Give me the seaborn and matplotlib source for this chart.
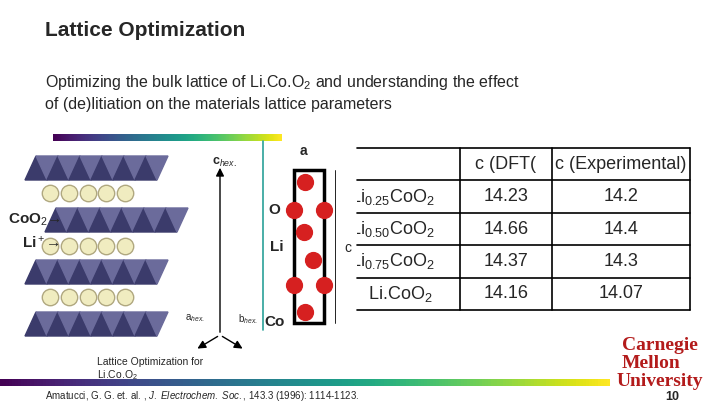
import matplotlib
matplotlib.use("Agg")
import matplotlib.pyplot as plt
import matplotlib.patches as mpatches
import numpy as np
import pandas as pd
import seaborn as sns

sns.set_theme(style="white")
plt.rcParams['font.family'] = ['Liberation Sans', 'DejaVu Sans']
plt.rcParams['mathtext.fontset'] = 'custom'
plt.rcParams['mathtext.rm'] = 'Liberation Sans'
plt.rcParams['mathtext.it'] = 'Liberation Sans:italic'
plt.rcParams['mathtext.bf'] = 'Liberation Sans:bold'

# table data
compounds = ["Li$_{0.25}$CoO$_2$", "Li$_{0.50}$CoO$_2$", "Li$_{0.75}$CoO$_2$", "Li.CoO$_2$"]
c_dft = ["14.23", "14.66", "14.37", "14.16"]
c_exp = ["14.2", "14.4", "14.3", "14.07"]
headers = ["", "c (DFT(", "c (Experimental)"]

fig = plt.figure(figsize=(7.2, 4.05), dpi=100)
bg = fig.add_axes([0, 0, 1, 1])
bg.set_xlim(0, 720)
bg.set_ylim(405, 0)
bg.axis("off")

bg.text(45, 30, "Lattice Optimization", fontsize=15, fontweight="bold", va="center")
bg.text(45, 82, "Optimizing the bulk lattice of Li.Co.O$_2$ and understanding the effect",
        fontsize=11.5, va="center")
bg.text(45, 104, "of (de)litiation on the materials lattice parameters", fontsize=11.5, va="center")

# top stripe
grad = np.linspace(0, 1, 200)[None, :]
bg.imshow(grad, extent=(53, 282, 141, 134), cmap="viridis", aspect="auto")
bg.plot([263, 263], [141, 330], color="#2aa198", lw=1.2)

# layered structure schematic
for y in [168, 220, 272, 324]:
    x0 = 25 if y != 220 else 45
    for i in range(6):
        xs = x0 + i * 22
        bg.add_patch(mpatches.Polygon([[xs, y + 12], [xs + 22, y + 12], [xs + 11, y - 12]],
                                      color="#3b3b6b"))
        bg.add_patch(mpatches.Polygon([[xs + 11, y - 12], [xs + 33, y - 12], [xs + 22, y + 12]],
                                      color="#6b6b9b"))
for y in [193, 246, 297]:
    bg.scatter(np.linspace(50, 125, 5), [y] * 5, s=140, color="#f0ecc0", edgecolor="#b0a880", zorder=3)
bg.text(8, 220, "CoO$_2$→", fontsize=11, fontweight="bold", va="center")
bg.text(22, 243, "Li$^+$→", fontsize=11, fontweight="bold", va="center")
bg.annotate("", xy=(220, 165), xytext=(220, 335), arrowprops=dict(arrowstyle="-|>", color="black"))
bg.annotate("", xy=(195, 350), xytext=(220, 335), arrowprops=dict(arrowstyle="-|>", color="black"))
bg.annotate("", xy=(245, 350), xytext=(220, 335), arrowprops=dict(arrowstyle="-|>", color="black"))
bg.text(212, 165, "c$_{hex.}$", fontsize=9, fontweight="bold")
bg.text(185, 320, "a$_{hex.}$", fontsize=7)
bg.text(238, 322, "b$_{hex.}$", fontsize=7)

# unit cell
bg.add_patch(mpatches.Rectangle((294, 170), 30, 153, fill=False, lw=2.5, color="black"))
bg.scatter([305, 294, 324, 304, 313, 294, 324, 305], [182, 210, 210, 232, 260, 285, 285, 312],
           s=130, color="#d62020", zorder=4)
bg.text(268, 210, "O", fontsize=11, fontweight="bold", va="center")
bg.text(270, 247, "Li", fontsize=11, fontweight="bold", va="center")
bg.text(264, 322, "Co", fontsize=11, fontweight="bold", va="center")
bg.text(303, 155, "a", fontsize=10, fontweight="bold", ha="center")
bg.text(344, 248, "c", fontsize=10, va="center")
bg.plot([335, 335], [170, 323], color="black", lw=0.6)

bg.text(97, 362, "Lattice Optimization for", fontsize=7.5, va="center")
bg.text(97, 375, "Li.Co.O$_2$", fontsize=7.5, va="center")
bg.imshow(grad, extent=(0, 610, 386, 379), cmap="viridis", aspect="auto")
bg.text(45, 396, "Amatucci, G. G. et. al. , $\\it{J.\\ Electrochem.\\ Soc.}$, 143.3 (1996): 1114-1123.",
        fontsize=7, va="center")

bg.text(660, 346, "Carnegie", fontsize=14, family="Liberation Serif", fontweight="bold",
        color="#b31b1b", ha="center", va="center")
bg.text(651, 364, "Mellon", fontsize=14, family="Liberation Serif", fontweight="bold",
        color="#b31b1b", ha="center", va="center")
bg.text(660, 382, "University", fontsize=14, family="Liberation Serif", fontweight="bold",
        color="#b31b1b", ha="center", va="center")
bg.text(672, 397, "10", fontsize=9, fontweight="bold", ha="center", va="center")

# table drawn on a seaborn heatmap axis
cells = [headers] + [[a, b, c] for a, b, c in zip(compounds, c_dft, c_exp)]
df = pd.DataFrame(np.zeros((5, 3)))
tx0, tx1, ty0, ty1 = 357, 690, 148, 310
tab = fig.add_axes([tx0 / 720, 1 - ty1 / 405, (tx1 - tx0) / 720, (ty1 - ty0) / 405])
sns.heatmap(df, ax=tab, cmap=["white"], cbar=False, linewidths=0)
widths = np.array([103, 92, 138])
edges = np.concatenate([[0], np.cumsum(widths)]) / widths.sum() * 3
tab.set_xticks([])
tab.set_yticks([])
for s in tab.spines.values():
    s.set_visible(False)
for i, row in enumerate(cells):
    for j, txt in enumerate(row):
        x = (edges[j] + edges[j + 1]) / 2
        ha = "center"
        if j == 0 and i > 0:
            x = 0.1 if i == 4 else -0.06
            ha = "left"
        tab.text(x, i + 0.5, txt, fontsize=13, ha=ha, va="center", clip_on=True)
for i in range(0, 6):
    tab.plot([0, 3], [i, i], color="black", lw=1.2, clip_on=False)
for e in edges[1:]:
    tab.plot([e, e], [0, 5], color="black", lw=1.2, clip_on=False)

fig.savefig("out.png", dpi=100)
